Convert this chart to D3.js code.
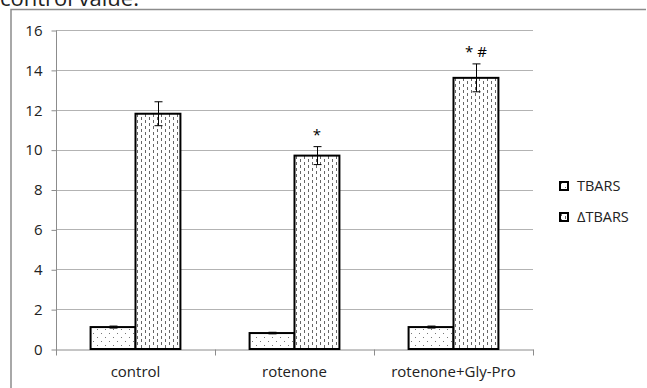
<!DOCTYPE html>
<html>
<head>
<meta charset="utf-8">
<script src="https://cdn.jsdelivr.net/npm/d3@7"></script>
<style>
  body { margin: 0; background: #fff; }
  svg { display: block; font-family: "Open Sans", sans-serif; }
</style>
</head>
<body>
<div id="chart"></div>
<script>
// data
const categories = ["control", "rotenone", "rotenone+Gly-Pro"];
const seriesNames = ["TBARS", "ΔTBARS"];
const tbars = [1.1, 0.8, 1.1];
const tbarsErr = [0.05, 0.04, 0.05];
const deltaTbars = [11.8, 9.7, 13.6];
const deltaErr = [0.6, 0.45, 0.7];
const marks = ["", "*", "* #"];
const yTicks = [0, 2, 4, 6, 8, 10, 12, 14, 16];

const width = 647, height = 388;
const margin = { top: 30, left: 56, right: 114, bottom: 39 };
const fontSize = "15px";

const svg = d3.select("#chart").append("svg")
  .attr("width", width)
  .attr("height", height);

const defs = svg.append("defs");

// sparse dot fill for TBARS
const pDots = defs.append("pattern")
  .attr("id", "dots")
  .attr("patternUnits", "userSpaceOnUse")
  .attr("width", 8).attr("height", 8);
pDots.append("rect").attr("width", 8).attr("height", 8).attr("fill", "#fff");
pDots.append("rect").attr("x", 1).attr("y", 1).attr("width", 1).attr("height", 1).attr("fill", "#777");
pDots.append("rect").attr("x", 5).attr("y", 5).attr("width", 1).attr("height", 1).attr("fill", "#777");

// dashed vertical fill for delta TBARS
const pDash = defs.append("pattern")
  .attr("id", "dashes")
  .attr("patternUnits", "userSpaceOnUse")
  .attr("width", 8).attr("height", 6);
pDash.append("rect").attr("width", 8).attr("height", 6).attr("fill", "#fff");
pDash.append("rect").attr("x", 1).attr("y", 0).attr("width", 1).attr("height", 3).attr("fill", "#666");
pDash.append("rect").attr("x", 5).attr("y", 3).attr("width", 1).attr("height", 3).attr("fill", "#666");

// clipped title from the page above
svg.append("text")
  .attr("x", 0)
  .attr("y", 6)
  .style("font-size", "22px")
  .style("fill", "#222")
  .text("control value.");

// outer chart frame (only top and left edges visible)
svg.append("path")
  .attr("d", `M11,${height} V9.5 H646`)
  .attr("fill", "none")
  .attr("stroke", "#8c8c8c")
  .attr("stroke-width", 1.5);

const x = d3.scaleBand()
  .domain(categories)
  .range([margin.left, width - margin.right])
  .padding(0);

const xSub = d3.scaleBand()
  .domain(seriesNames)
  .range([0, x.bandwidth()])
  .paddingOuter(0.77)
  .paddingInner(0);

const y = d3.scaleLinear()
  .domain([0, 16])
  .range([height - margin.bottom, margin.top]);

// gridlines
svg.append("g")
  .selectAll("line")
  .data(yTicks.filter(d => d > 0))
  .join("line")
  .attr("x1", margin.left)
  .attr("x2", width - margin.right)
  .attr("y1", d => Math.round(y(d)) + 0.5)
  .attr("y2", d => Math.round(y(d)) + 0.5)
  .attr("stroke", "#b3b3b3");

// y axis
const yAxis = svg.append("g")
  .attr("transform", `translate(${margin.left + 0.5},0.5)`)
  .call(d3.axisLeft(y).tickValues(yTicks).tickSize(5).tickPadding(9));
yAxis.select(".domain").attr("stroke", "#8c8c8c").attr("d", `M0,${margin.top}V${height - margin.bottom + 6}`);
yAxis.selectAll(".tick line").attr("stroke", "#8c8c8c");
yAxis.selectAll(".tick text").style("font-size", fontSize).style("fill", "#222").style("font-family", "'Open Sans', sans-serif");

// x axis
const xAxis = svg.append("g")
  .attr("transform", `translate(0,${Math.round(y(0)) + 0.5})`)
  .call(d3.axisBottom(x).tickSize(0).tickPadding(17));
xAxis.select(".domain").attr("stroke", "#8c8c8c");
xAxis.selectAll(".tick text").style("font-size", fontSize).style("fill", "#222").style("font-family", "'Open Sans', sans-serif");
xAxis.selectAll(".sep")
  .data(categories)
  .join("line")
  .attr("class", "sep")
  .attr("x1", d => Math.round(x(d) + x.bandwidth()) + 0.5)
  .attr("x2", d => Math.round(x(d) + x.bandwidth()) + 0.5)
  .attr("y1", 0).attr("y2", 6)
  .attr("stroke", "#8c8c8c");

// bars
const rows = categories.map((c, i) => ({
  cat: c,
  vals: [
    { s: "TBARS", v: tbars[i], e: tbarsErr[i], fill: "url(#dots)" },
    { s: "ΔTBARS", v: deltaTbars[i], e: deltaErr[i], fill: "url(#dashes)" }
  ],
  mark: marks[i]
}));

const groups = svg.append("g")
  .selectAll("g")
  .data(rows)
  .join("g")
  .attr("transform", d => `translate(${x(d.cat)},0)`);

groups.selectAll("rect")
  .data(d => d.vals)
  .join("rect")
  .attr("x", d => xSub(d.s))
  .attr("y", d => y(d.v))
  .attr("width", xSub.bandwidth())
  .attr("height", d => y(0) - y(d.v))
  .attr("fill", d => d.fill)
  .attr("stroke", "#000")
  .attr("stroke-width", 2);

// error bars
const err = groups.selectAll(".err")
  .data(d => d.vals)
  .join("g")
  .attr("class", "err")
  .attr("transform", d => `translate(${Math.round(xSub(d.s) + xSub.bandwidth() / 2) + 0.5},0)`);
err.append("line")
  .attr("y1", d => y(d.v + d.e)).attr("y2", d => y(d.v - d.e))
  .attr("stroke", "#000");
err.append("line")
  .attr("x1", -4).attr("x2", 4)
  .attr("y1", d => y(d.v + d.e)).attr("y2", d => y(d.v + d.e))
  .attr("stroke", "#000");
err.append("line")
  .attr("x1", -4).attr("x2", 4)
  .attr("y1", d => y(d.v - d.e)).attr("y2", d => y(d.v - d.e))
  .attr("stroke", "#000");

// significance marks
groups.append("text")
  .attr("x", xSub("ΔTBARS") + xSub.bandwidth() / 2)
  .attr("y", (d, i) => y(deltaTbars[i] + deltaErr[i]) - 7)
  .attr("text-anchor", "middle")
  .style("font-size", "15px")
  .style("fill", "#000")
  .text(d => d.mark);

// legend
const legend = svg.append("g")
  .selectAll("g")
  .data(seriesNames)
  .join("g")
  .attr("transform", (d, i) => `translate(560,${182 + i * 31})`);
legend.append("rect")
  .attr("width", 8).attr("height", 8)
  .attr("fill", (d, i) => i === 0 ? "url(#dots)" : "url(#dashes)")
  .attr("stroke", "#000")
  .attr("stroke-width", 2);
legend.append("text")
  .attr("x", 17)
  .attr("y", 9)
  .style("font-size", "14.5px")
  .style("fill", "#222")
  .text(d => d);
</script>
</body>
</html>
